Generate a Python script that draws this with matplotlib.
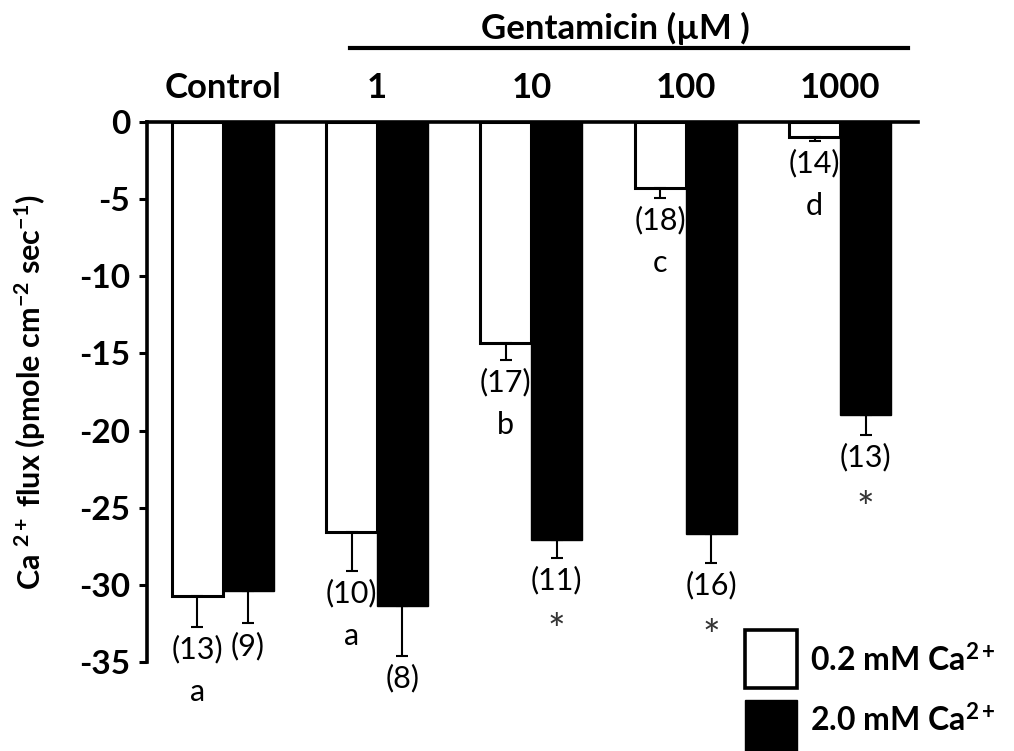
import numpy as np
import matplotlib
matplotlib.use("Agg")
import matplotlib.pyplot as plt
from matplotlib.patches import Rectangle
from matplotlib.lines import Line2D
import matplotlib.transforms as mtransforms

plt.rcParams['font.family'] = ['Lato', 'DejaVu Sans']
plt.rcParams['axes.unicode_minus'] = False
plt.rcParams['mathtext.fontset'] = 'custom'
plt.rcParams['mathtext.rm'] = 'Lato:bold'
plt.rcParams['mathtext.it'] = 'Lato:bold'
plt.rcParams['mathtext.bf'] = 'Lato:bold'

# Gentamicin groups (first group is the untreated control)
groups = ['Control', '1', '10', '100', '1000']

# Mean Ca2+ flux (pmole cm^-2 sec^-1) and SEM
low_ca = [-30.7, -26.6, -14.3, -4.3, -1.0]        # 0.2 mM Ca2+
low_ca_err = [2.0, 2.5, 1.1, 0.6, 0.2]
high_ca = [-30.4, -31.4, -27.1, -26.7, -19.0]     # 2.0 mM Ca2+
high_ca_err = [2.1, 3.2, 1.15, 1.9, 1.3]

# Sample sizes and significance marks
n_low = ['(13)', '(10)', '(17)', '(18)', '(14)']
n_high = ['(9)', '(8)', '(11)', '(16)', '(13)']
letters_low = ['a', 'a', 'b', 'c', 'd']
stars_high = ['', '', '*', '*', '*']

yticks = [0, -5, -10, -15, -20, -25, -30, -35]

fig = plt.figure(figsize=(10.14, 7.51), dpi=100)
ax = fig.add_axes([147 / 1014, 1 - 662 / 751, (918 - 147) / 1014, (662 - 122) / 751])

x = np.arange(len(groups))
w = 0.33
xl = x - w / 2
xh = x + w / 2

ax.bar(xl, low_ca, width=w, color='white', edgecolor='black', linewidth=2.2, zorder=2)
ax.bar(xh, high_ca, width=w, color='black', edgecolor='black', linewidth=1.0, zorder=2)

zeros = np.zeros(len(groups))
ax.errorbar(xl, low_ca, yerr=[low_ca_err, zeros], fmt='none', ecolor='black',
            elinewidth=1.5, capsize=4.5, capthick=1.5, zorder=3)
ax.errorbar(xh, high_ca, yerr=[high_ca_err, zeros], fmt='none', ecolor='black',
            elinewidth=1.5, capsize=4.5, capthick=1.5, zorder=3)

# n labels and significance marks below each error bar
ann_fs = 22
for xi, v, e, n, lab in zip(xl, low_ca, low_ca_err, n_low, letters_low):
    ax.annotate(n, xy=(xi, v - e), xytext=(0, -16), textcoords='offset points',
                ha='center', va='center', fontsize=ann_fs, annotation_clip=False)
    ax.annotate(lab, xy=(xi, v - e), xytext=(0, -47), textcoords='offset points',
                ha='center', va='center', fontsize=ann_fs, annotation_clip=False)
for xi, v, e, n, st in zip(xh, high_ca, high_ca_err, n_high, stars_high):
    ax.annotate(n, xy=(xi, v - e), xytext=(0, -16), textcoords='offset points',
                ha='center', va='center', fontsize=ann_fs, annotation_clip=False)
    if st:
        ax.annotate(st, xy=(xi, v - e), xytext=(0, -40), textcoords='offset points',
                    ha='center', va='top', fontsize=30, color='#333333',
                    annotation_clip=False)

ax.set_xlim(-0.49, 4.505)
ax.set_ylim(-35, 0)
ax.set_yticks(yticks)
ax.set_yticklabels([str(t) for t in yticks], fontsize=24, fontweight='bold')
ax.set_xticks([])

for side in ['right', 'bottom']:
    ax.spines[side].set_visible(False)
for side in ['left', 'top']:
    ax.spines[side].set_linewidth(2.6)
ax.tick_params(axis='y', direction='out', length=6, width=2.2, pad=6)

# Group labels above the zero line
trans = mtransforms.blended_transform_factory(ax.transData, fig.transFigure)
for xi, g in zip(x, groups):
    fig.text(xi, 1 - 88 / 751, g, transform=trans, ha='center', va='center',
             fontsize=25, fontweight='bold')

# Gentamicin bracket
fig.add_artist(Line2D([350 / 1014, 908 / 1014], [1 - 48 / 751, 1 - 48 / 751],
                      color='black', linewidth=3, transform=fig.transFigure))
fig.text(615 / 1014, 1 - 28 / 751, 'Gentamicin (\u00b5M )', ha='center', va='center',
         fontsize=25, fontweight='bold')

# Y axis label
fig.text(30 / 1014, 1 - 392 / 751, 'Ca $^{2+}$ flux (pmole cm$^{-2}$ sec$^{-1}$)',
         rotation=90, ha='center', va='center', fontsize=22, fontweight='bold')

# Legend boxes
fig.add_artist(Rectangle((745 / 1014, 1 - 688 / 751), 52 / 1014, 58 / 751,
                         facecolor='white', edgecolor='black', linewidth=2.6,
                         transform=fig.transFigure))
fig.add_artist(Rectangle((745 / 1014, 1 - 760 / 751), 52 / 1014, 60 / 751,
                         facecolor='black', edgecolor='black', linewidth=1,
                         transform=fig.transFigure, clip_on=False))
fig.text(810 / 1014, 1 - 660 / 751, '0.2 mM Ca$^{2+}$', ha='left', va='center',
         fontsize=23, fontweight='bold')
fig.text(810 / 1014, 1 - 720 / 751, '2.0 mM Ca$^{2+}$', ha='left', va='center',
         fontsize=23, fontweight='bold')

fig.savefig('out.png', dpi=100)
